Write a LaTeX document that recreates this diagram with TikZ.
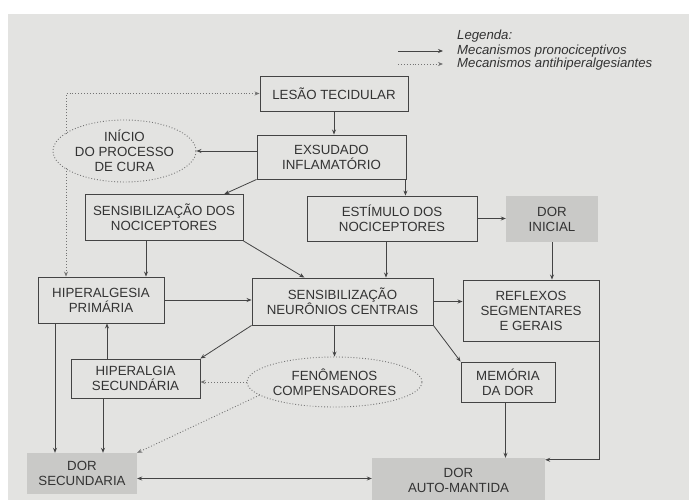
\documentclass[tikz,border=0pt]{standalone}
\usepackage{fontspec}
\setmainfont{Liberation Sans}
\usetikzlibrary{arrows.meta,shapes.geometric,calc}
\definecolor{paper}{HTML}{E3E3E1}
\definecolor{ink}{HTML}{333333}
\definecolor{linec}{HTML}{444444}
\definecolor{grayfill}{HTML}{C9C9C7}
\definecolor{dotc}{HTML}{737373}
\begin{document}
\begin{tikzpicture}[x=1pt,y=-1pt,
  every node/.style={text=ink, font=\fontsize{13.3}{15}\selectfont, align=center, inner sep=0pt},
  box/.style={draw=linec, line width=0.9pt, rectangle},
  shaded/.style={fill=grayfill, rectangle},
  oval/.style={ellipse, draw=dotc, line width=0.9pt, dotted, fill=paper},
  arr/.style={draw=linec, line width=0.8pt, -{Stealth[length=5pt,width=4pt]}},
  biarr/.style={draw=linec, line width=0.8pt, {Stealth[length=5pt,width=4pt]}-{Stealth[length=5pt,width=4pt]}},
  darr/.style={draw=dotc, line width=0.9pt, dotted, -{Stealth[length=5pt,width=4pt]}},
  lgd/.style={font=\itshape\fontsize{13.2}{14}\selectfont, anchor=west}
]
\useasboundingbox (0,0) rectangle (689,500);
\fill[white] (0,0) rectangle (689,500);
\fill[paper] (8,14) rectangle (689,500);

% legend
\node[lgd] (lgtitle) at (457,36) {Legenda:};
\node[lgd] (lgpro) at (457,51) {Mecanismos pronociceptivos};
\node[lgd] (lganti) at (457,64) {Mecanismos antihiperalgesiantes};
\coordinate (l1) at (398,51);
\coordinate (l2) at (398,64);
\draw[arr] (l1) -- ([xshift=-14pt]lgpro.west);
\draw[darr] (l2) -- ([xshift=-14pt]lganti.west);

% nodes
\node[box, minimum width=148pt, minimum height=35pt] (lesao) at (334,93.5) {LESÃO TECIDULAR};
\node[box, minimum width=149pt, minimum height=44pt] (exsud) at (331.5,157) {EXSUDADO\\INFLAMATÓRIO};
\node[oval, minimum width=143pt, minimum height=62pt] (inicio) at (124.5,151) {INÍCIO\\DO PROCESSO\\DE CURA};
\node[box, minimum width=158pt, minimum height=46pt] (sensnoc) at (164,217.5) {SENSIBILIZAÇÃO DOS\\NOCICEPTORES};
\node[box, minimum width=170pt, minimum height=45pt] (estim) at (392,218.5) {ESTÍMULO DOS\\NOCICEPTORES};
\node[shaded, minimum width=92pt, minimum height=46pt] (dorini) at (552,219) {DOR\\INICIAL};
\node[box, minimum width=126pt, minimum height=46pt] (hipprim) at (101,300) {HIPERALGESIA\\PRIMÁRIA};
\node[box, minimum width=181pt, minimum height=47pt] (senscent) at (342.5,301.5) {SENSIBILIZAÇÃO\\NEURÔNIOS CENTRAIS};
\node[box, minimum width=136pt, minimum height=61pt] (reflex) at (531,310.5) {REFLEXOS\\SEGMENTARES\\E GERAIS};
\node[box, minimum width=129pt, minimum height=39pt] (hipsec) at (135.5,378.5) {HIPERALGIA\\SECUNDÁRIA};
\node[oval, minimum width=175pt, minimum height=50pt] (fen) at (334.5,382) {FENÔMENOS\\COMPENSADORES};
\node[box, minimum width=94pt, minimum height=40pt] (memoria) at (508,382) {MEMÓRIA\\DA DOR};
\node[shaded, minimum width=110pt, minimum height=41pt] (dorsec) at (82,473.5) {DOR\\SECUNDARIA};
\node[shaded, minimum width=173pt, minimum height=44pt] (dorauto) at (458.5,480) {DOR\\AUTO-MANTIDA};

% solid connectors
\draw[arr] (lesao.south) -- (lesao.south |- exsud.north);
\draw[arr] (exsud.west |- inicio.east) -- (inicio.east);
\draw[arr] (exsud.south west) -- ($(sensnoc.north west)!0.88!(sensnoc.north east)$);
\draw[arr] ([xshift=-1pt]exsud.south east) -- ([xshift=-1pt]exsud.south east |- estim.north);
\draw[arr] (estim.east) -- (estim.east -| dorini.west);
\draw[arr] (dorini.south) -- (dorini.south |- reflex.north);
\draw[arr] ([xshift=-6pt]estim.south) -- ([xshift=-6pt]estim.south |- senscent.north);
\draw[arr] (sensnoc.south east) -- ($(senscent.north west)!0.29!(senscent.north east)$);
\draw[arr] ([xshift=-18pt]sensnoc.south) -- ([xshift=-18pt]sensnoc.south |- hipprim.north);
\draw[arr] (hipprim.east) -- (hipprim.east -| senscent.west);
\draw[arr] (senscent.east) -- (senscent.east -| reflex.west);
\draw[arr] (senscent.south west) -- (hipsec.north east);
\draw[arr] (senscent.south -| fen.north) -- (fen.north);
\draw[arr] (senscent.south east) -- (memoria.north west);
\draw[arr] ([xshift=-28.5pt]hipsec.north) -- ([xshift=-28.5pt]hipsec.north |- hipprim.south);
\draw[arr] ([xshift=-46pt]hipprim.south) -- ([xshift=-46pt]hipprim.south |- dorsec.north);
\draw[arr] ([xshift=-32.5pt]hipsec.south) -- ([xshift=-32.5pt]hipsec.south |- dorsec.north);
\draw[biarr] ([yshift=-5pt]dorsec.east) -- ([yshift=-5pt]dorsec.east -| dorauto.west);
\draw[arr] ([xshift=-2.5pt]memoria.south) -- ([xshift=-2.5pt]memoria.south |- dorauto.north);
\draw[arr] (reflex.south east) |- ([yshift=-2pt]dorauto.north east);

% dotted connectors
\coordinate (c1) at (66,133.5);
\coordinate (c2) at (66,168.5);
\draw[darr] (c1) |- (lesao.west);
\draw[darr] (c2) -- (c2 |- hipprim.north);
\draw[darr] (fen.west) -- (fen.west -| hipsec.east);
\draw[darr] (fen.190) -- (dorsec.north east);
\end{tikzpicture}
\end{document}
